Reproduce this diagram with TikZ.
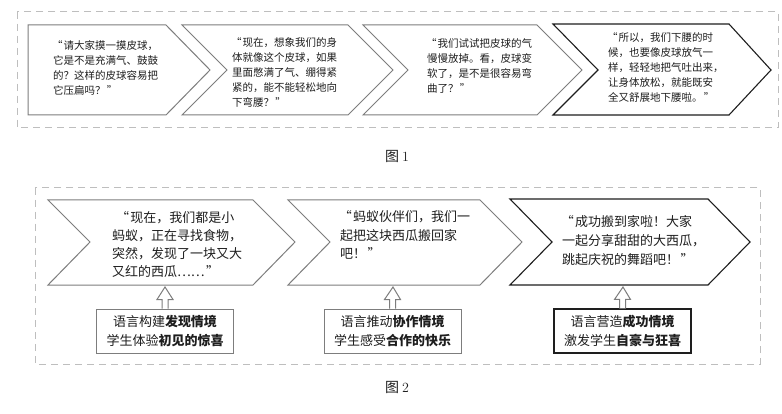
\documentclass[tikz,border=0pt]{standalone}
\usepackage{fontspec}
\newfontfamily\cjk{Noto Sans CJK SC}
\usetikzlibrary{calc}
\definecolor{shapegray}{RGB}{125,125,125}
\definecolor{dashgray}{RGB}{190,190,190}
\definecolor{ink}{RGB}{30,30,30}
\newcommand\myoq{\makebox[1em][r]{“\hspace{0.1em}}}
\newcommand\mycq{\makebox[1em][l]{\hspace{0.1em}”}}
\newcommand\myuparrow[2]{%
  \draw[gshape] ($(#1.north)+(-3,0)$) -- ($(#1.north)+(-3,-9)$) -- ($(#1.north)+(-8,-9)$) -- (#2)
    -- ($(#1.north)+(8,-9)$) -- ($(#1.north)+(3,-9)$) -- ($(#1.north)+(3,0)$);}
\begin{document}
\begin{tikzpicture}[x=1pt,y=-1pt,
  frame/.style={draw=dashgray,line width=1pt,dash pattern=on 7pt off 5pt},
  gshape/.style={draw=shapegray,line width=1pt,fill=white,line join=miter},
  kshape/.style={draw=ink,line width=1.1pt,fill=white,line join=miter},
  txa/.style={font=\cjk\fontsize{10.5}{15}\selectfont,align=left,inner sep=0pt,text=ink,anchor=west},
  txb/.style={font=\cjk\fontsize{13}{18.3}\selectfont,align=left,inner sep=0pt,text=ink,anchor=west},
  gbox/.style={draw=shapegray,line width=1pt,fill=white,minimum width=137pt,minimum height=44pt,font=\cjk\fontsize{13}{19}\selectfont,align=center,inner sep=0pt,text=ink},
  kbox/.style={gbox,draw=ink,line width=1.1pt},
  figcap/.style={font=\fontsize{14}{16}\selectfont,inner sep=0pt,text=ink}
]
\useasboundingbox[fill=white] (0,0) rectangle (782,414);

% ---------- Figure 1 ----------
\draw[frame] (17,12) rectangle (778,128);
\draw[gshape] (28,25) -- (166,25) -- (210,70) -- (166,115) -- (28,115) -- cycle;
\draw[gshape] (182,25) -- (348,25) -- (393,70) -- (348,115) -- (182,115) -- (227,70) -- cycle;
\draw[gshape] (363,25) -- (537,25) -- (582,70) -- (537,115) -- (363,115) -- (408,70) -- cycle;
\draw[kshape] (553,24) -- (729,24) -- (771,70) -- (729,115) -- (553,115) -- (598,70) -- cycle;

\node[txa] (t11) at (53,67.5) {\myoq 请大家摸一摸皮球，\\它是不是充满气、鼓鼓\\的？这样的皮球容易把\\它压扁吗？\mycq};
\node[txa] (t12) at (232,72) {\myoq 现在，想象我们的身\\体就像这个皮球，如果\\里面憋满了气、绷得紧\\紧的，能不能轻松地向\\下弯腰？\mycq};
\node[txa] (t13) at (427,65.5) {\myoq 我们试试把皮球的气\\慢慢放掉。看，皮球变\\软了，是不是很容易弯\\曲了？\mycq};
\node[txa] (t14) at (608,67.5) {\myoq 所以，我们下腰的时\\候，也要像皮球放气一\\样，轻轻地把气吐出来，\\让身体放松，就能既安\\全又舒展地下腰啦。\mycq};

\node[figcap] (cap1) at (397,156) {{\cjk 图}\hspace{3pt}1};

% ---------- Figure 2 ----------
\draw[frame] (35,188) rectangle (760,364);
\draw[gshape] (48,200) -- (253,200) -- (295,242) -- (253,285) -- (48,285) -- (90,242) -- cycle;
\draw[gshape] (288,200) -- (480,200) -- (522,242) -- (480,285) -- (288,285) -- (330,242) -- cycle;
\draw[kshape] (510,199) -- (708,199) -- (750,242) -- (708,285) -- (510,285) -- (552,242) -- cycle;

\node[txb] (t21) at (112,244.5) {\hspace*{0.4em}\myoq 现在，我们都是小\\蚂蚁，正在寻找食物，\\突然，发现了一块又大\\又红的西瓜……\mycq};
\node[txb] (t22) at (340,235) {\myoq 蚂蚁伙伴们，我们一\\起把这块西瓜搬回家\\吧！\mycq};
\node[txb,font=\cjk\fontsize{13}{19}\selectfont] (t23) at (562,241) {\myoq 成功搬到家啦！大家\\一起分享甜甜的大西瓜，\\跳起庆祝的舞蹈吧！\mycq};

\coordinate (tipA) at (165,287);
\coordinate (tipB) at (393,287);
\coordinate (tipC) at (623,287);

\node[gbox] (bA) at (165,331) {语言构建\textbf{发现情境}\\学生体验\textbf{初见的惊喜}};
\node[gbox] (bB) at (392.5,331) {语言推动\textbf{协作情境}\\学生感受\textbf{合作的快乐}};
\node[kbox] (bC) at (622.5,331) {语言营造\textbf{成功情境}\\激发学生\textbf{自豪与狂喜}};

\myuparrow{bA}{tipA}
\myuparrow{bB}{tipB}
\myuparrow{bC}{tipC}

\node[figcap] (cap2) at (397,387) {{\cjk 图}\hspace{3pt}2};
\end{tikzpicture}
\end{document}
